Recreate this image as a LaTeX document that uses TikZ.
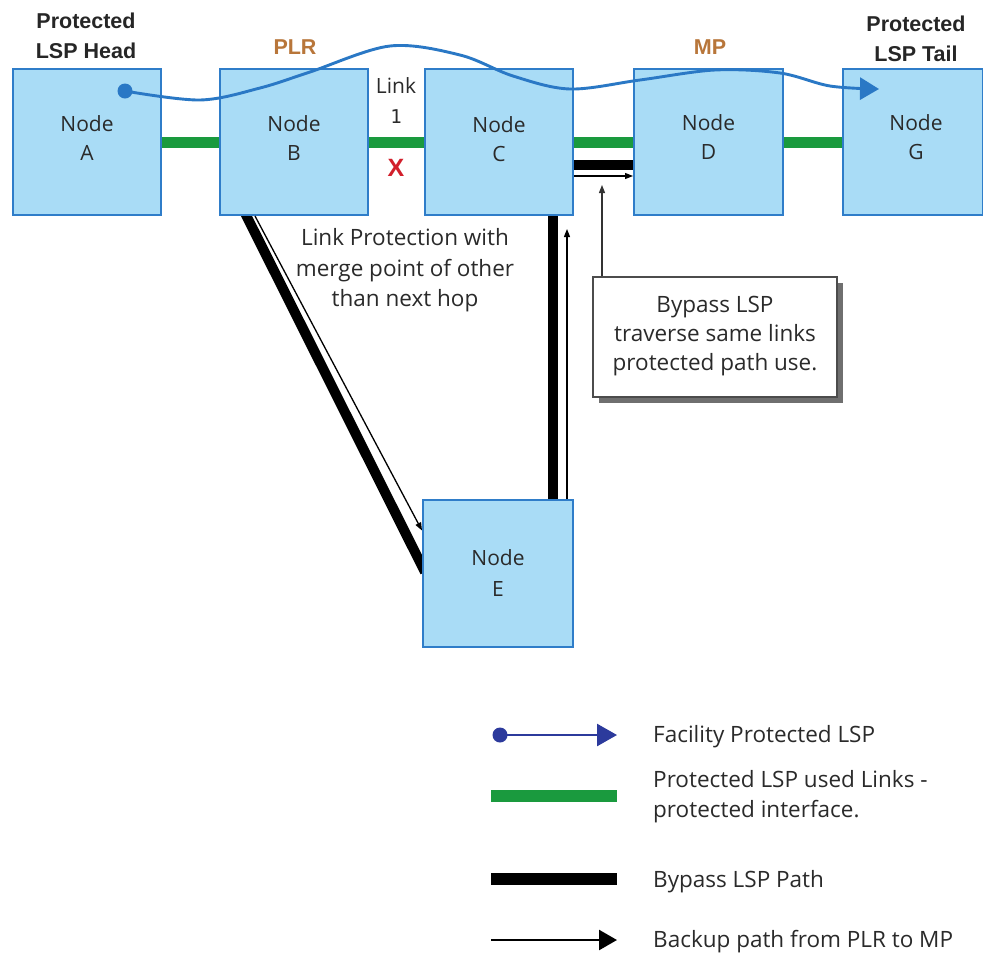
\documentclass[tikz,border=0pt]{standalone}
\usepackage{fontspec}
\setmainfont{Open Sans}
\newfontfamily\labfont{Liberation Sans}
\newfontfamily\digfont{DejaVu Sans Mono}
\usetikzlibrary{arrows.meta,shadows}
\definecolor{nfill}{HTML}{A9DCF6}
\definecolor{nborder}{HTML}{2F7DC9}
\definecolor{lgreen}{HTML}{1A9A3E}
\definecolor{cblue}{HTML}{2A78C5}
\definecolor{navy}{HTML}{2C3A9C}
\definecolor{plrbrown}{HTML}{B8763A}
\definecolor{xred}{HTML}{D21F2B}
\definecolor{txt}{HTML}{2A2A2A}
\tikzset{
  nodebox/.style={draw=nborder, line width=2pt, fill=nfill, minimum width=148pt, minimum height=146pt, inner sep=0pt},
  ntext/.style={anchor=base, text=txt, inner sep=0pt, font=\fontsize{21}{25}\selectfont},
  ttext/.style={anchor=base, text=txt, inner sep=0pt, font=\fontsize{22.5}{25}\selectfont},
  btext/.style={anchor=base, inner sep=0pt, font=\labfont\bfseries\fontsize{21.5}{25}\selectfont},
  ltext/.style={anchor=base west, text=txt, inner sep=0pt, font=\fontsize{22.5}{25}\selectfont},
  greenlink/.style={lgreen, line width=11pt},
  bypass/.style={black, line width=10pt},
  backup/.style={black, line width=1.3pt, -{Triangle[length=8pt,width=6pt]}},
  callout/.style={draw=black!70, line width=1.3pt, fill=white, minimum width=244pt, minimum height=120pt,
    drop shadow={shadow xshift=6pt, shadow yshift=-6pt, fill=black!75, opacity=0.75}},
}
\begin{document}
\begin{tikzpicture}[x=1pt,y=-1pt]
\useasboundingbox (0,0) rectangle (983,954);
\fill[white] (0,0) rectangle (983,954);

% coordinates for node centres
\coordinate (cA) at (87,142);
\coordinate (cB) at (294,142);
\coordinate (cC) at (499,142);
\coordinate (cD) at (708.5,142);
\coordinate (cG) at (912.5,142);
\coordinate (cE) at (498,573.5);

% green protected links (under boxes)
\draw[greenlink] (cA) -- (cB);
\draw[greenlink] (cB) -- (cC);
\draw[greenlink] (cC) -- (cD);
\draw[greenlink] (cD) -- (cG);

% bypass thick lines (under boxes)
\draw[bypass] (241,205) -- (425,572);
\draw[bypass] (553,210) -- (553,505);
\draw[bypass] (565,164.5) -- (640,164.5);

% nodes
\node[nodebox] (A) at (cA) {};
\node[nodebox] (B) at (cB) {};
\node[nodebox] (C) at (cC) {};
\node[nodebox, minimum width=149pt] (D) at (cD) {};
\node[nodebox, minimum width=140pt] (G) at (cG) {};
\node[nodebox, minimum width=150pt, minimum height=147pt] (E) at (cE) {};

% node labels
\node[ntext] (A1) at (87,131) {Node};
\node[ntext] (A2) at (87,160) {A};
\node[ntext] (B1) at (294,131) {Node};
\node[ntext] (B2) at (294,160) {B};
\node[ntext] (C1) at (499,132) {Node};
\node[ntext] (C2) at (499,161) {C};
\node[ntext] (D1) at (708.5,130) {Node};
\node[ntext] (D2) at (708.5,159) {D};
\node[ntext] (G1) at (916,130) {Node};
\node[ntext] (G2) at (916,159) {G};
\node[ntext] (E1) at (498,565) {Node};
\node[ntext] (E2) at (498,596) {E};

% thin backup arrows
\draw[backup] ([xshift=36pt]B.south west) -- ([yshift=43pt]E.west);
\draw[backup] ([xshift=69pt]E.north) -- ([xshift=69pt,yshift=-13pt]E.north |- C.south);
\draw[backup] ([yshift=-34pt]C.east) -- ([yshift=-34pt]C.east -| D.west);

% facility protected LSP curve
\coordinate (head) at (125,91);
\coordinate (tail) at (879,89);
\draw[cblue, line width=2.9pt, -{Triangle[length=19pt,width=22pt]}]
  plot[smooth, tension=0.55] coordinates {(head) (200,100) (260,88) (310,72) (390,46) (460,55) (513,76) (570,89) (640,80) (715,70) (780,73) (830,86) (tail)};
\fill[cblue] (head) circle (7.5);

% top labels
\node[btext, text=black!85] (h1) at (86,28) {Protected};
\node[btext, text=black!85] (h2) at (86,58) {LSP Head};
\node[btext, text=black!85] (t1) at (916,31) {Protected};
\node[btext, text=black!85] (t2) at (916,61) {LSP Tail};
\node[btext, text=plrbrown] (plr) at (295,54) {PLR};
\node[btext, text=plrbrown] (mp) at (710,54) {MP};
\node[ntext] (lk) at (396,93) {Link};
\node[anchor=base, inner sep=0pt, text=txt, font=\digfont\fontsize{19}{22}\selectfont] (lk1) at (396,123) {1};
\node[anchor=base, inner sep=0pt, text=xred, font=\labfont\bfseries\fontsize{25}{25}\selectfont] (x) at (396,176) {X};

% middle text
\node[ttext] (m1) at (405,245) {Link Protection with};
\node[ttext] (m2) at (405,276) {merge point of other};
\node[ttext] (m3) at (405,306) {than next hop};

% callout
\node[callout] (note) at (715,337) {};
\node[ttext] (n1) at (715,312) {Bypass LSP};
\node[ttext] (n2) at (715,341) {traverse same links};
\node[ttext] (n3) at (715,370) {protected path use.};
\coordinate (ctip) at (602,185);
\draw[black!80, line width=1.2pt, -{Triangle[length=8pt,width=6pt]}] (note.north -| ctip) -- (ctip);

% legend
\coordinate (l1s) at (500,735);
\coordinate (l1e) at (617,735);
\draw[navy, line width=2.6pt, -{Triangle[length=20pt,width=22pt]}] (l1s) -- (l1e);
\fill[navy] (l1s) circle (7.5);
\node[ltext] (L1) at (653,742) {Facility Protected LSP};

\coordinate (l2s) at (491,796);
\coordinate (l2e) at (617,796);
\draw[lgreen, line width=12pt] (l2s) -- (l2e);
\node[ltext] (L2a) at (653,787) {Protected LSP used Links -};
\node[ltext] (L2b) at (653,817) {protected interface.};

\coordinate (l3s) at (491,879);
\coordinate (l3e) at (617,879);
\draw[black, line width=12pt] (l3s) -- (l3e);
\node[ltext] (L3) at (653,887) {Bypass LSP Path};

\coordinate (l4s) at (491,940);
\coordinate (l4e) at (617,940);
\draw[black, line width=2.6pt, -{Triangle[length=18pt,width=20pt]}] (l4s) -- (l4e);
\node[ltext] (L4) at (653,947) {Backup path from PLR to MP};
\end{tikzpicture}
\end{document}
